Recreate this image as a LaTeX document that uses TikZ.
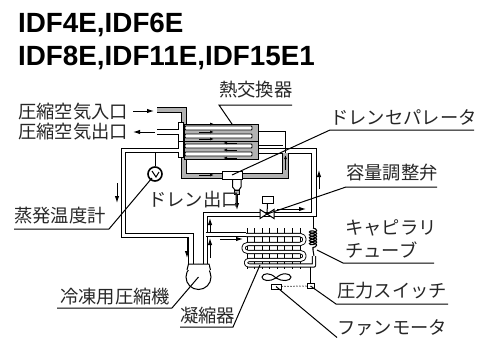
\documentclass[tikz,border=0pt]{standalone}
\usepackage{fontspec}
\setmainfont{Liberation Sans}
\newfontfamily\jp{Noto Sans CJK JP}
\usetikzlibrary{arrows.meta,decorations.pathmorphing}
\definecolor{pipegray}{gray}{0.7}
\tikzset{
  x=1pt,y=-1pt,
  lab/.style={font=\jp\fontsize{18.3}{20}\selectfont,anchor=west,inner sep=0pt,text=black!85},
  ttl/.style={font=\bfseries\fontsize{27.8}{30}\selectfont,anchor=base west,inner sep=0pt},
  lead/.style={draw=black,line width=1pt},
  thin/.style={draw=black,line width=1pt},
  airo/.style={draw=black,line width=6.8pt,line join=miter},
  airi/.style={draw=pipegray,line width=4.8pt,line join=miter},
  refo/.style={draw=black,line width=5.2pt,line join=miter},
  refi/.style={draw=white,line width=3.4pt,line join=miter},
  flow/.style={draw=black,line width=1pt,-{Latex[length=7pt,width=4.5pt]}},
  slot/.style={draw=black,fill=white,line width=0.8pt,rounded corners=0.8pt},
  equip/.style={draw=black,fill=white,line width=1pt}
}
\begin{document}
\begin{tikzpicture}
\useasboundingbox (0,0) rectangle (491,338);
% titles
\node[ttl] (t1) at (18,32) {IDF4E,IDF6E};
\node[ttl] (t2) at (18,65) {IDF8E,IDF11E,IDF15E1};
% refrigerant pipes (white, double line)
\def\pa{(180,150.5)--(123.5,150.5)--(123.5,235.5)--(191,235.5)--(191,266)}
\def\pb{(205.5,266)--(205.5,214.5)--(314,214.5)--(314,151)--(255,151)}
\draw[refo] \pa; \draw[refi] \pa;
\draw[refo] \pb; \draw[refi] \pb;
\draw[refo] (205.5,234.5)--(246,234.5);
\draw[refi] (205.5,234.5)--(246,234.5);
% air side pipes
\def\pc{(157,110)--(184,110)--(184,176)--(225,176)}
\def\pd{(240,176)--(285.5,176)--(285.5,153)}
\draw[airo] \pc; \draw[airi] \pc;
\draw[airo] \pd; \draw[airi] \pd;
\draw[thin] (258,131)--(285.5,131)--(285.5,153);
\draw[thin] (258,145)--(283,145);
% exchanger
\fill[pipegray,draw=black,line width=1pt] (184,124) rectangle (258,159.5);
\draw[refo] (157,132)--(180,132);
\draw[refi] (157,132)--(181,132);
\draw[equip] (178,122) rectangle (183,157);
\foreach \yy in {128,136,146,154}{\draw[slot] (185,\yy-2) rectangle (252,\yy+2);}
\fill[white] (177,130.3) rectangle (182.5,133.7);
\fill[white] (177,148.9) rectangle (182.5,152.1);
\draw[thin] (178,141)--(258,141);
% exchanger flow marks
\foreach \yy in {124,132,139,175}{\draw[flow,-{Latex[length=4pt,width=3pt]}] (199,\yy)--(214,\yy);}
\foreach \yy in {143,150,158}{\draw[flow,-{Latex[length=4pt,width=3pt]}] (237,\yy)--(223,\yy);}
\draw[flow,-{Latex[length=4pt,width=3pt]}] (285.5,170)--(285.5,155);
% drain separator
\node[equip,minimum width=20pt,minimum height=8pt,inner sep=0pt] (sep) at (232,175) {};
\draw[thin] (232.5,179)--(232.5,187)--(235,190)--(239,190)--(241,187)--(241,179);
\node[draw=black,fill=pipegray,line width=1pt,minimum width=5pt,minimum height=4pt,inner sep=0pt] (trap) at (237,192.5) {};
\coordinate (drainend) at (237,210);
\draw[flow] (trap.south)--(drainend);
% inlet/outlet arrows
\coordinate (ina) at (133,111); \coordinate (inb) at (154,111);
\coordinate (outa) at (155,132); \coordinate (outb) at (133,132);
\draw[flow] (ina)--(inb);
\draw[flow] (outa)--(outb);
% gauge
\node[draw=black,fill=white,line width=1.6pt,circle,minimum size=14pt,inner sep=0pt] (gauge) at (155,174) {};
\draw[thin] (155,153)--(gauge.north);
\draw[thin] (152,171)--(156,177)--(159,172);
% pipe arrows
\draw[flow] (117,183)--(117,203);
\draw[flow] (187,238)--(187,258);
\draw[flow] (210,232)--(210,218);
\draw[flow] (210,258)--(210,238);
\draw[flow] (220,239)--(243,239);
\draw[flow] (277,209)--(306,209);
\draw[flow] (319,189)--(319,170);
% valve
\node[equip,minimum width=11pt,minimum height=7pt,inner sep=0pt] (vbox) at (267.5,199.5) {};
\coordinate (vc) at (267,214);
\draw[thin] (vbox.south)--(vc);
\draw[equip] (260,209.5)--(274,218.5)--(274,209.5)--(260,218.5)--cycle;
% compressor
\node[draw=black,fill=white,line width=1pt,circle,minimum size=25pt,inner sep=0pt] (comp) at (198.5,277) {};
\draw[equip] (187,270)--(188.5,264)--(209,264)--(210.5,270);
\fill[white] (188.5,265) rectangle (209,272);
% condenser fins
\foreach \xx in {247,254,262,269,277,284,292,300}{\draw[thin] (\xx,228)--(\xx,269);}
% condenser coil
\def\coil{(246,235)--(300,235) .. controls (306,235) and (306,244) .. (300,244)
 --(248,244) .. controls (242,244) and (242,252) .. (248,252)
 --(300,252) .. controls (306,252) and (306,260) .. (300,260)
 --(249,260) .. controls (245,260) and (245,265.5) .. (249,265.5)
 --(314,265.5)--(314,256)}
\draw[refo,line width=4.2pt,line join=round] \coil;
\draw[refi,line width=2.4pt,line join=round] \coil;
% capillary
\draw[thin] (313,217)--(313,228);
\draw[thin,line width=1.1pt,decorate,decoration={coil,aspect=0.5,segment length=2.9pt,amplitude=3.6pt}] (313,228)--(313,250);
\draw[thin] (313,250)--(314,256);
% fan
\node[equip,minimum width=10pt,minimum height=5pt,inner sep=0pt] (motor) at (276,286.5) {};
\draw[thin] (276,278) .. controls (270,272) and (263,273) .. (262,277)
 .. controls (262,281) and (270,282) .. (276,278)
 .. controls (282,272) and (290,273) .. (291,277)
 .. controls (291,281) and (282,282) .. (276,278);
\node[equip,minimum width=7pt,minimum height=4.5pt,inner sep=0pt] (psw) at (310.5,286) {};
\draw[thin] (psw.north)--(310.5,267);
\draw[thin,dotted] (motor.east)--(psw.west);
% labels
\node[lab] (l1) at (18,112) {圧縮空気入口};
\node[lab] (l2) at (18,132) {圧縮空気出口};
\node[lab] (l3) at (219,90) {熱交換器};
\node[lab] (l4) at (330,117) {ドレンセパレータ};
\node[lab] (l5) at (346,173) {容量調整弁};
\node[lab] (l6) at (148,200) {ドレン出口};
\node[lab] (l7) at (14,216) {蒸発温度計};
\node[lab] (l8) at (345,228) {キャピラリ};
\node[lab] (l9) at (345,250) {チューブ};
\node[lab] (l10) at (337,291) {圧力スイッチ};
\node[lab] (l11) at (60,297) {冷凍用圧縮機};
\node[lab] (l12) at (180,316) {凝縮器};
\node[lab] (l13) at (337,328) {ファンモータ};
% leaders
\draw[lead] (292,105)--(219,105)--(232,124);
\draw[lead] (474,130)--(330,130)--(sep.center);
\draw[lead] (437,187)--(346,187)--(vc);
\draw[lead] (14,229)--(109,229)--(152,178);
\draw[lead] (434,263)--(343,263)--(317,250);
\draw[lead] (448,304)--(336,304)--(psw.center);
\draw[lead] (57,308)--(172,308)--(comp.center);
\draw[lead] (180,327)--(233,327)--(260,265);
\draw[lead] (337,337.5)--(motor.center);
\end{tikzpicture}
\end{document}
